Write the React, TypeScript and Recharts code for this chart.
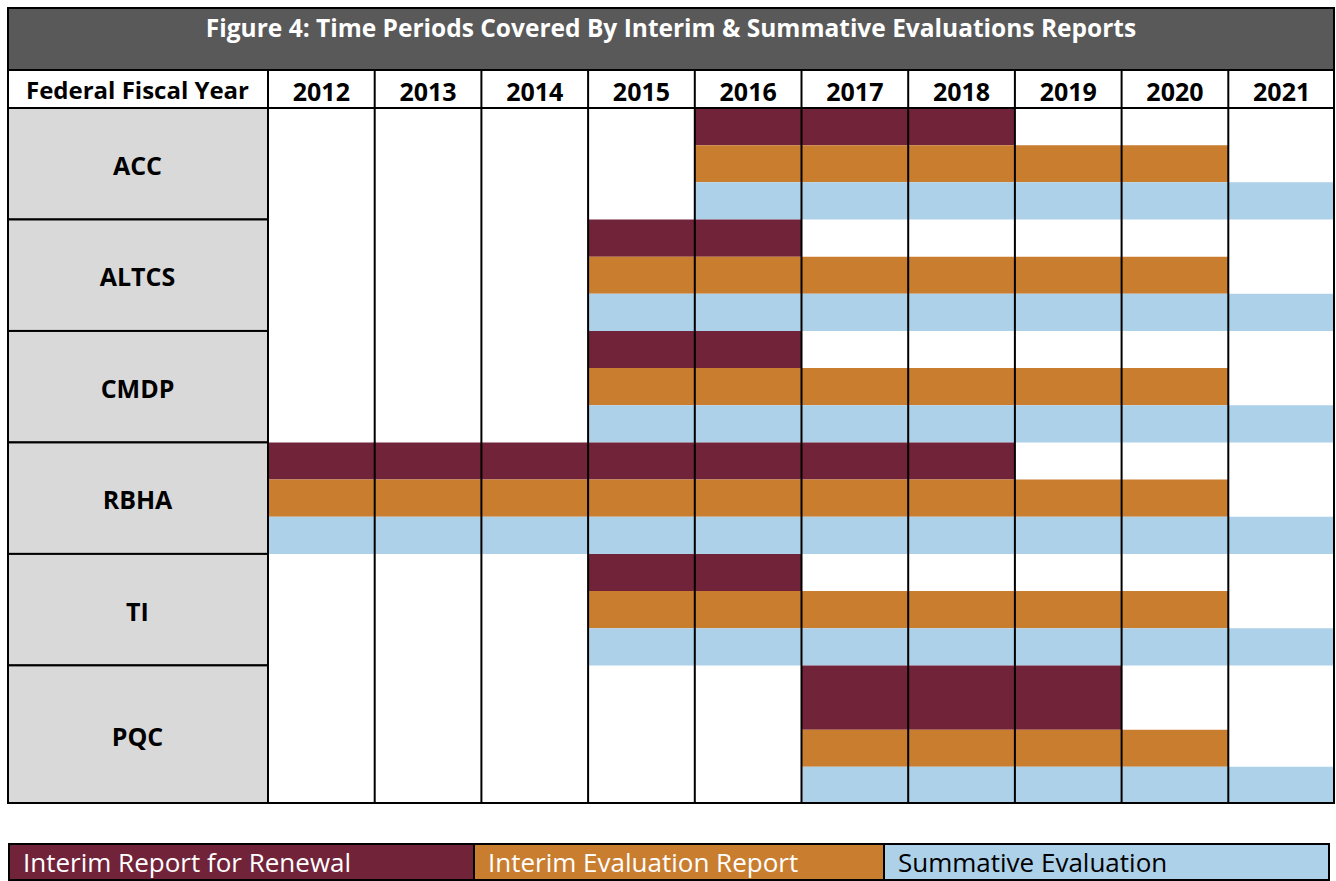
import { ComposedChart, XAxis, YAxis, ReferenceArea, ReferenceLine, Scatter } from "recharts";

const PROGRAMS = ["ACC", "ALTCS", "CMDP", "RBHA", "TI", "PQC"];
const YEARS = [2012, 2013, 2014, 2015, 2016, 2017, 2018, 2019, 2020, 2021];

// first and last fiscal year covered by each report type, per program
const RENEWAL_FROM = [2016, 2015, 2015, 2012, 2015, 2017];
const RENEWAL_TO = [2018, 2016, 2016, 2018, 2016, 2019];
const INTERIM_FROM = [2016, 2015, 2015, 2012, 2015, 2017];
const INTERIM_TO = [2020, 2020, 2020, 2020, 2020, 2020];
const SUMMATIVE_FROM = [2016, 2015, 2015, 2012, 2015, 2017];
const SUMMATIVE_TO = [2021, 2021, 2021, 2021, 2021, 2021];

const SERIES = [
  { name: "Interim Report for Renewal", from: RENEWAL_FROM, to: RENEWAL_TO, color: "#71233A", text: "#fff" },
  { name: "Interim Evaluation Report", from: INTERIM_FROM, to: INTERIM_TO, color: "#C97D2F", text: "#fff" },
  { name: "Summative Evaluation", from: SUMMATIVE_FROM, to: SUMMATIVE_TO, color: "#AED1EA", text: "#000" },
];

// band heights in y units (PQC's renewal band is drawn taller)
const BAND_UNITS = PROGRAMS.map((p) => (p === "PQC" ? [1.73, 1, 1] : [1, 1, 1]));
const ROW_TOPS: number[] = [];
let acc = 0;
BAND_UNITS.forEach((b) => {
  ROW_TOPS.push(acc);
  acc += b[0] + b[1] + b[2];
});
const TOTAL_UNITS = acc;

const FONT = "'Open Sans', Lato, sans-serif";
const CHART_W = 1328;
const CHART_H = 733;
const HEADER_H = 37;
const LABEL_W = 261;
const PLOT_H = CHART_H - HEADER_H;
const PX_PER_UNIT = PLOT_H / TOTAL_UNITS;
const COL_W = (CHART_W - LABEL_W) / YEARS.length;

const rowCenters = PROGRAMS.map((_, i) => ROW_TOPS[i] + (BAND_UNITS[i][0] + BAND_UNITS[i][1] + BAND_UNITS[i][2]) / 2);
const rowData = PROGRAMS.map((p, i) => ({ program: p, year: YEARS[0], center: rowCenters[i] }));

function YearTick({ x, payload }: any) {
  return (
    <g>
      <line x1={x - COL_W / 2} x2={x - COL_W / 2} y1={0} y2={HEADER_H} stroke="#000" strokeWidth={2} />
      <text x={x} y={HEADER_H / 2 + 1} textAnchor="middle" dominantBaseline="central" fontFamily={FONT} fontWeight={700} fontSize={25} fill="#000">
        {Math.floor(payload.value)}
      </text>
    </g>
  );
}

function ProgramTick({ y, payload }: any) {
  const i = rowCenters.indexOf(payload.value);
  if (i < 0) return null;
  const units = BAND_UNITS[i][0] + BAND_UNITS[i][1] + BAND_UNITS[i][2];
  const h = units * PX_PER_UNIT;
  return (
    <g>
      <rect x={0} y={y - h / 2} width={LABEL_W} height={h} fill="#D9D9D9" stroke="#000" strokeWidth={2} />
      <text x={LABEL_W / 2} y={y + 1} textAnchor="middle" dominantBaseline="central" fontFamily={FONT} fontWeight={700} fontSize={25} fill="#000">
        {PROGRAMS[i]}
      </text>
    </g>
  );
}

export default function App() {
  const areas: any[] = [];
  PROGRAMS.forEach((p, i) => {
    let top = ROW_TOPS[i];
    SERIES.forEach((s, k) => {
      const bottom = top + BAND_UNITS[i][k];
      areas.push(
        <ReferenceArea
          key={p + k}
          x1={s.from[i]}
          x2={s.to[i] + 1}
          y1={top}
          y2={bottom}
          fill={s.color}
          fillOpacity={1}
          stroke="none"
          ifOverflow="visible"
        />
      );
      top = bottom;
    });
  });

  return (
    <div style={{ position: "absolute", left: 0, top: 0, width: 1336, height: 881, background: "#fff", fontFamily: FONT }}>
      <div
        style={{
          position: "absolute", left: 7, top: 7, width: 1328, height: 64, boxSizing: "border-box",
          background: "#595959", border: "2px solid #000", color: "#fff", fontWeight: 700, fontSize: 24.5,
          textAlign: "center", paddingTop: 2,
        }}
      >
        Figure 4: Time Periods Covered By Interim &amp; Summative Evaluations Reports
      </div>
      <div
        style={{
          position: "absolute", left: 7, top: 71, width: LABEL_W, height: HEADER_H, display: "flex",
          alignItems: "center", justifyContent: "center", fontWeight: 700, fontSize: 24, zIndex: 1,
        }}
      >
        Federal Fiscal Year
      </div>
      <div style={{ position: "absolute", left: 7, top: 71 }}>
        <ComposedChart width={CHART_W} height={CHART_H} data={rowData} margin={{ top: 0, right: 0, bottom: 0, left: 0 }}>
          <XAxis
            dataKey="year"
            type="number"
            orientation="top"
            domain={[YEARS[0], YEARS[YEARS.length - 1] + 1]}
            ticks={YEARS.map((y) => y + 0.5)}
            interval={0}
            height={HEADER_H}
            axisLine={false}
            tickLine={false}
            tick={<YearTick />}
          />
          <YAxis
            dataKey="center"
            type="number"
            domain={[0, TOTAL_UNITS]}
            reversed
            ticks={rowCenters}
            interval={0}
            width={LABEL_W}
            axisLine={false}
            tickLine={false}
            tick={<ProgramTick />}
          />
          {areas}
          {YEARS.slice(1).map((y) => (
            <ReferenceLine key={y} x={y} stroke="#000" strokeWidth={2} ifOverflow="visible" />
          ))}
          <ReferenceLine y={0} stroke="#000" strokeWidth={2} ifOverflow="visible" />
          <Scatter dataKey="center" shape={() => null} isAnimationActive={false} legendType="none" />
        </ComposedChart>
      </div>
      <div
        style={{
          position: "absolute", left: 7, top: 7, width: 1328, height: 797, boxSizing: "border-box",
          border: "2px solid #000", pointerEvents: "none", zIndex: 2,
        }}
      />
      <div
        style={{
          position: "absolute", left: 8, top: 843, width: 1322, height: 38, boxSizing: "border-box",
          border: "2px solid #000", display: "flex",
        }}
      >
        {SERIES.map((s, k) => (
          <div
            key={s.name}
            style={{
              width: k === 0 ? 463 : k === 1 ? 410 : undefined, flex: k === 2 ? 1 : undefined,
              background: s.color, color: s.text, fontSize: 26, paddingLeft: 13, boxSizing: "border-box",
              display: "flex", alignItems: "center", borderLeft: k > 0 ? "2px solid #000" : undefined,
            }}
          >
            {s.name}
          </div>
        ))}
      </div>
    </div>
  );
}
